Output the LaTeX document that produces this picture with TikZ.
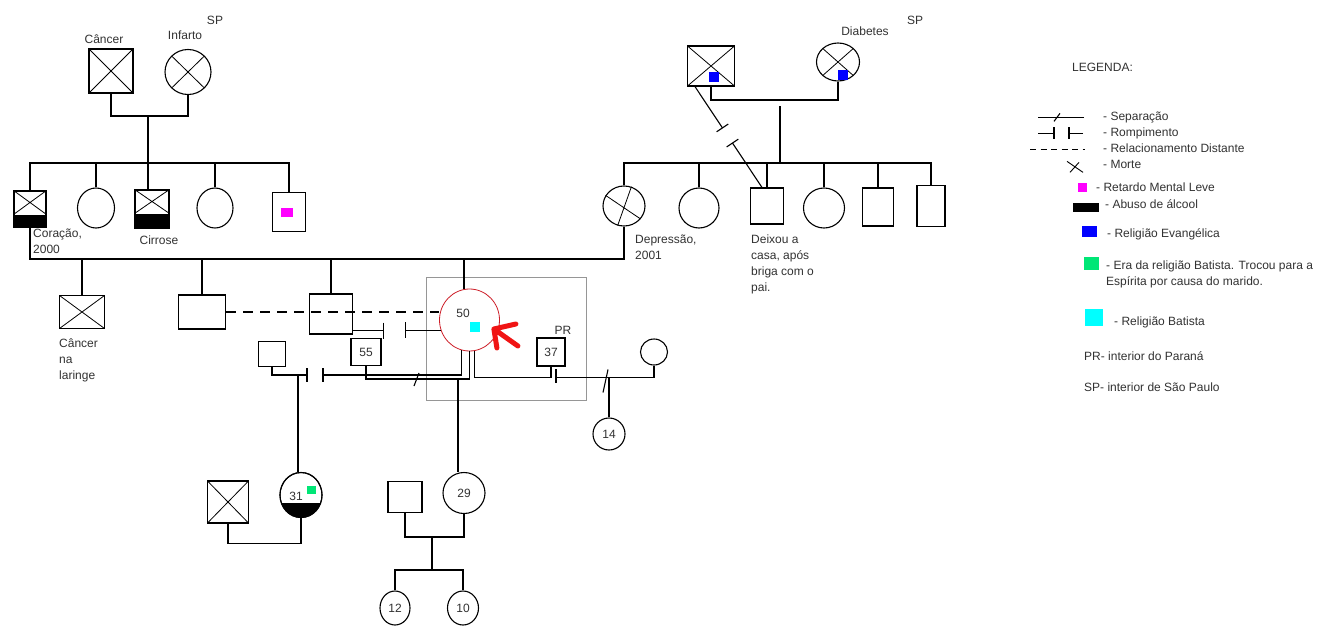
\documentclass[tikz,border=0pt]{standalone}
\usepackage{fontspec}
\setmainfont{Liberation Sans}
\usepackage{tikz}
\usetikzlibrary{shapes.geometric,calc}
\definecolor{ink}{RGB}{50,50,50}
\definecolor{mag}{RGB}{255,0,255}
\definecolor{evang}{RGB}{0,0,255}
\definecolor{batgreen}{RGB}{0,230,118}
\definecolor{batcyan}{RGB}{0,255,255}
\definecolor{focusred}{RGB}{205,30,40}
\definecolor{arrred}{RGB}{240,20,20}
\definecolor{boxgray}{RGB}{150,150,150}
\begin{document}
\begin{tikzpicture}[x=1pt,y=-1pt,font=\fontsize{12}{16}\selectfont]
\tikzset{pers/.style={draw=black,line width=1.1pt,inner sep=0pt,fill=white,text=ink},msq/.style={pers,rectangle},fem/.style={pers,ellipse},
  dead/.style={path picture={\draw[line width=0.8pt] (path picture bounding box.north west)--(path picture bounding box.south east) (path picture bounding box.north east)--(path picture bounding box.south west);}},
  sq/.style={inner sep=0pt,fill=#1},ln/.style={line width=1.1pt},xl/.style={line width=0.8pt},box/.style={draw=boxgray,line width=1pt,inner sep=0pt},
  lbl/.style={inner sep=0pt,text=ink,anchor=base},leg/.style={inner sep=0pt,text=ink,anchor=base west},note/.style={inner sep=0pt,text=ink,anchor=north west,align=left}}
\path[use as bounding box,fill=white] (0,0) rectangle (1333,626);
\node[box,minimum width=160pt,minimum height=123pt] (foc) at (506,338.5) {};
\node[msq,dead,minimum width=44pt,minimum height=44pt] (gf1) at (111,71) {};
\node[fem,dead,minimum width=46pt,minimum height=45pt] (gm1) at (188,72) {};
\node[msq,minimum width=32pt,minimum height=36pt] (u1) at (30,209) {};
\node[fem,minimum width=37pt,minimum height=40pt] (u2) at (96,208) {};
\node[msq,minimum width=34pt,minimum height=38pt] (u3) at (152,209) {};
\node[fem,minimum width=36pt,minimum height=40pt] (u4) at (215,208) {};
\node[msq,minimum width=33pt,minimum height=39pt] (u5) at (289,212) {};
\node[sq=mag,minimum width=12pt,minimum height=9pt] (m5) at (287,212) {};
\foreach \n/\h in {u1/13,u3/15}{\fill (\n.south west) rectangle ([yshift=\h pt]\n.south east);
  \draw[xl] (\n.north west)--([yshift=\h pt]\n.south east) (\n.north east)--([yshift=\h pt]\n.south west);}
\node[msq,dead,minimum width=47pt,minimum height=40pt] (gf2) at (711,66) {};
\node[fem,dead,minimum width=43pt,minimum height=38pt] (gm2) at (838,62) {};
\node[sq=evang,minimum size=10pt] (b1) at (714,77) {};
\node[sq=evang,minimum size=10pt] (b2) at (843,75) {};
\node[fem,minimum width=42pt,minimum height=40pt] (v1) at (624,206) {};
\node[fem,minimum width=40pt,minimum height=40pt] (v2) at (699,208) {};
\node[msq,minimum width=33pt,minimum height=36pt] (v3) at (767,206) {};
\node[fem,minimum width=41pt,minimum height=40pt] (v4) at (824,208) {};
\node[msq,minimum width=31pt,minimum height=38pt] (v5) at (878,207) {};
\node[msq,minimum width=28pt,minimum height=41pt] (v6) at (931,206) {};
\node[msq,dead,minimum width=45pt,minimum height=33pt] (w1) at (82,312) {};
\node[msq,minimum width=47pt,minimum height=34pt] (w2) at (202,312) {};
\node[msq,minimum width=43pt,minimum height=40pt] (w3) at (331,314) {};
\node[fem,draw=focusred,line width=0.8pt,minimum width=60pt,minimum height=62pt] (p50) at (469.5,320) {};
\node[lbl] (t50) at (463,317) {50};
\node[sq=batcyan,minimum size=10pt] (k50) at (475,327) {};
\node[msq,minimum width=30pt,minimum height=27pt] (n55) at (366,352) {55};
\node[msq,minimum width=28pt,minimum height=28pt] (n37) at (551,352) {37};
\node[fem,minimum width=27pt,minimum height=26pt] (w37) at (654,352) {};
\node[fem,minimum width=32pt,minimum height=32pt] (c14) at (609,434) {14};
\node[msq,minimum width=27pt,minimum height=25pt] (h31) at (272,354) {};
\node[msq,dead,minimum width=41pt,minimum height=42pt] (h2) at (228,502) {};
\node[fem,minimum width=42pt,minimum height=45pt] (d31) at (301,495) {};
\begin{scope}\clip (d31.center) ellipse (21 and 22.5);\fill ($(d31.south)+(-25,0)$) rectangle ($(d31.south)+(25,-15)$);\end{scope}
\draw[ln] (d31.center) ellipse (21 and 22.5);
\node[lbl] (t31) at (296,500) {31};
\node[sq=batgreen,minimum width=9pt,minimum height=8pt] (g31) at (311,490) {};
\node[msq,minimum width=34pt,minimum height=31pt] (h3) at (405,497) {};
\node[fem,minimum width=42pt,minimum height=41pt] (c29) at (464,493) {29};
\node[fem,minimum width=30pt,minimum height=34pt] (g12) at (395,608) {12};
\node[fem,minimum width=31pt,minimum height=34pt] (g10) at (463,608) {10};
\node[lbl] (lcan) at (104,44) {Câncer};\node[lbl] (linf) at (185,40) {Infarto};\node[lbl] (lsp1) at (215,25) {SP};
\node[lbl] (ldia) at (865,36) {Diabetes};\node[lbl] (lsp2) at (915,25) {SP};\node[lbl] (lcir) at (159,244) {Cirrose};\node[lbl] (lpr2) at (563,334) {PR};
\node[note] (lcor) at (33,229) {Coração,\\2000};\node[note] (llar) at (59,339) {Câncer\\na\\laringe};
\node[note] (ldep) at (635,235) {Depressão,\\2001};\node[note] (ldei) at (751,235) {Deixou a\\casa, após\\briga com o\\pai.};
\draw[xl] (v1.150)--(v1.-38) (v1.69)--(v1.252);
\coordinate (c1) at (148,116);\coordinate (sb) at (148,163);
\draw[ln] (gf1.south) |- (c1) -| (gm1.south);\draw[ln] (c1)--(c1 |- u3.north);
\draw[ln] (u1.north) |- (sb) -| (u5.north);
\foreach \n in {u2,u4} \draw[ln] (\n.north)--(\n.north |- sb);
\coordinate (c2) at (780,100);\coordinate (sr) at (780,163);
\draw[ln] (gf2.south) |- (c2) -| (gm2.south);\draw[ln] ([yshift=-6pt]c2)--(sr);
\draw[ln] (v1.north) |- (sr) -| (v6.north);
\foreach \n in {v2,v3,v4,v5} \draw[ln] (\n.north)--(\n.north |- sr);
\coordinate (ra) at ([xshift=8pt]gf2.south west);\coordinate (rb) at ([xshift=-5pt]v3.north);
\draw[ln] (ra)--($(ra)!0.41!(rb)$) coordinate (r1);\draw[ln] ($(ra)!0.56!(rb)$) coordinate (r2)--(rb);
\draw[ln] ($(r1)!7pt!90:(ra)$)--($(r1)!7pt!-90:(ra)$);\draw[ln] ($(r2)!7pt!90:(rb)$)--($(r2)!7pt!-90:(rb)$);
\coordinate (mc) at (464,259);
\draw[ln] (u1.south) |- (mc) -| (v1.south);
\foreach \n in {w1,w2,w3} \draw[ln] (\n.north)--(\n.north |- mc);
\draw[ln] (mc)--(mc |- p50.north);
\draw[ln,dash pattern=on 10pt off 7pt] (w2.east)--(w2.east -| p50.west);
\draw[ln] ([yshift=4pt]w3.south east)--++(30,0) ++(0,-8)--++(0,16);
\draw[ln] (p50.200)--++(-35,0) ++(0,-8)--++(0,16);
\coordinate (ja) at (298,375);\coordinate (jb) at (323,375);
\draw[ln] (h31.south) |- (ja)--++(9,0) ++(0,-7)--++(0,14);
\draw[ln] (p50.256) |- (jb) ++(0,-7)--++(0,14);
\draw[ln] (ja)--(ja |- d31.north);
\coordinate (jd) at (458,379);
\draw[ln] (n55.south) |- (jd) -| (p50.south);
\draw[ln] (jd)--(jd |- c29.north);
\draw[ln] ($(jd)+(-44,7)$)--++(5,-13);
\coordinate (jf) at ([yshift=-11pt]n37.south);
\draw[ln] (p50.279) |- (jf)--(n37.south);
\draw[ln] ([xshift=5pt]jf) -| (w37.south);
\draw[ln] ([xshift=5pt,yshift=-5pt]jf)--++(0,-14);
\draw[ln] (c14.north)--(c14.north |- jf);
\draw[ln] ($(c14.north |- jf)+(-6,15)$)--++(5,-23);
\draw[ln] (h2.south)--++(0,20) -| (d31.south);
\coordinate (jg) at (432,537);\coordinate (jh) at (432,570);
\draw[ln] (h3.south) |- (jg) -| (c29.south);\draw[ln] (jg)--(jh);
\draw[ln] (g12.north) |- (jh) -| (g10.north);
\draw[arrred,line width=5pt,line cap=round,line join=round] ([xshift=-6pt,yshift=-9pt]p50.east) coordinate (tip)--++(22,-5) (tip)--++(3,19) (tip)--++(24,17);
\node[leg] (lhead) at (1072,71) {LEGENDA:};
\node[leg] (lsep) at (1103,120) {- Separação};
\node[leg] (lrom) at (1103,136) {- Rompimento};
\node[leg] (ldist) at (1103,152) {- Relacionamento Distante};
\node[leg] (lmor) at (1103,168) {- Morte};
\node[leg] (lret) at (1096,191) {- Retardo Mental Leve};
\node[leg] (lalc) at (1105,208) {- Abuso de álcool};
\node[leg] (levg) at (1107,237) {- Religião Evangélica};
\node[note] (lera) at (1106,261) {- Era da religião Batista. Trocou para a\\Espírita por causa do marido.};
\node[leg] (lbat) at (1114,325) {- Religião Batista};
\node[leg] (lpr) at (1084,360) {PR- interior do Paraná};
\node[leg] (lsp) at (1084,391) {SP- interior de São Paulo};
\node[sq=mag,minimum size=9pt] (kmag) at (1082.5,187.5) {};
\node[sq=black,minimum width=26pt,minimum height=9pt] (kalc) at (1086,207.5) {};
\node[sq=evang,minimum width=15pt,minimum height=11pt] (kevg) at (1089.5,231.5) {};
\node[sq=batgreen,minimum width=15pt,minimum height=13pt] (kera) at (1091.5,263.5) {};
\node[sq=batcyan,minimum width=18pt,minimum height=17pt] (kbat) at (1094,317.5) {};
\draw[ln] ([xshift=-19pt]lsep.mid west)--++(-46,0);\draw[ln] ([xshift=-49pt,yshift=-4pt]lsep.mid west)--++(6,-8);
\draw[ln] ([xshift=-65pt]lrom.mid west)--++(16,0) ++(0,-6)--++(0,12);\draw[ln] ([xshift=-20pt]lrom.mid west)--++(-14,0) ++(0,-6)--++(0,12);
\draw[ln,dash pattern=on 6pt off 4.5pt] ([xshift=-73pt]ldist.mid west)--++(55,0);
\draw[line width=0.9pt] ([xshift=-36pt,yshift=4pt]lmor.mid west)--++(16,11) ([xshift=-33pt,yshift=-7pt]lmor.mid west)--++(9,-10);
\end{tikzpicture}
\end{document}
